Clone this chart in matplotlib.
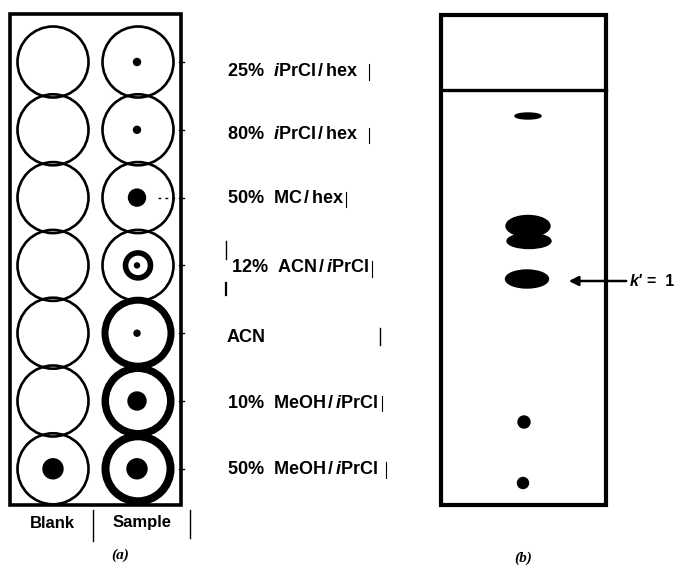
import matplotlib
matplotlib.use('Agg')
import matplotlib.pyplot as plt
from matplotlib.patches import Circle, Ellipse, Rectangle

plt.rcParams['font.family'] = ['Liberation Sans', 'DejaVu Sans']
plt.rcParams['mathtext.fontset'] = 'custom'
plt.rcParams['mathtext.rm'] = 'Liberation Sans:bold'
plt.rcParams['mathtext.it'] = 'Liberation Sans:italic:bold'

# (a) solvent screening: one row per solvent
solvents = ['25%  $\\mathit{i}$PrCl$\\,$/$\\,$hex', '80%  $\\mathit{i}$PrCl$\\,$/$\\,$hex',
            '50%  MC$\\,$/$\\,$hex', '12%  ACN$\\,$/$\\,\\mathit{i}$PrCl', 'ACN',
            '10%  MeOH$\\,$/$\\,\\mathit{i}$PrCl', '50%  MeOH$\\,$/$\\,\\mathit{i}$PrCl']
blank_spot = [0, 0, 0, 0, 0, 0, 10]           # spot radius left in the blank circle
sample_spot = [3.5, 3.5, 8.5, 2.5, 3, 9, 10]  # spot radius left in the sample circle
sample_ring = [0, 0, 0, 0, 7, 7.5, 8]         # thickness of the solvent-front ring
inner_ring = [0, 0, 0, 12.5, 0, 0, 0]         # inner ring radius (12% ACN)
columns = ['Blank', 'Sample']

# (b) developed plate: spots from the top
tlc_x = [528, 528, 529, 527, 524, 523]
tlc_y = [116, 226, 241, 279, 422, 483]
tlc_w = [26, 44, 44, 43, 12, 11]
tlc_h = [6, 21, 15, 18, 12, 11]
k_label_y = 281

fig = plt.figure(figsize=(6.85, 5.69), dpi=100)
ax = fig.add_axes([0, 0, 1, 1])
ax.set_xlim(0, 685)
ax.set_ylim(569, 0)
ax.axis('off')

# ---- panel (a)
ax.add_patch(Rectangle((10, 14), 171, 491, fill=False, lw=2.6, ec='black'))
x_blank, x_sample = 53, 138
y0, dy, r = 62, 67.8, 35.5
label_shift = [9, 5, 1, 2, 4, 2, 1]
label_x = [227, 227, 227, 231, 227, 227, 227]
for i, lab in enumerate(solvents):
    y = y0 + i * dy
    ax.add_patch(Circle((x_blank, y), r, fill=False, lw=1.9, ec='black'))
    if sample_ring[i]:
        w = sample_ring[i]
        ax.add_patch(Circle((x_sample, y), r - w / 2 + 1, fill=False,
                            lw=w * 0.72, ec='black'))
    else:
        ax.add_patch(Circle((x_sample, y), r, fill=False, lw=1.9, ec='black'))
    if inner_ring[i]:
        ax.add_patch(Circle((x_sample, y), inner_ring[i], fill=False,
                            lw=4, ec='black'))
    if blank_spot[i]:
        ax.add_patch(Circle((x_blank, y), blank_spot[i], color='black'))
    if sample_spot[i]:
        ax.add_patch(Circle((x_sample - 1, y), sample_spot[i], color='black'))
    ax.text(label_x[i], y + label_shift[i], lab, fontsize=13, weight='bold',
            va='center', ha='left')
    # little edge tick on the plate border
    ax.plot([179, 184], [y, y], color='black', lw=1)

# dashed lead from the 50% MC/hex spot
ax.plot([158, 182], [y0 + 2 * dy, y0 + 2 * dy], color='black', lw=1,
        ls=(0, (2, 3)))

# stray marks next to the labels
ax.plot([369, 369], [64, 80], color='black', lw=0.8)
ax.plot([369, 369], [128, 143], color='black', lw=0.8)
ax.plot([346, 346], [192, 207], color='black', lw=0.8)
ax.plot([226, 226], [241, 259], color='black', lw=1)
ax.plot([226, 226], [283, 295], color='black', lw=1.6)
ax.plot([372, 372], [261, 277], color='black', lw=0.8)
ax.plot([380, 380], [328, 345], color='black', lw=1)
ax.plot([382, 382], [396, 411], color='black', lw=0.8)
ax.plot([386, 386], [462, 478], color='black', lw=0.8)

ax.text(x_blank - 1, 523, columns[0], fontsize=12, weight='bold',
        ha='center', va='center')
ax.text(x_sample + 4, 523, columns[1], fontsize=12, weight='bold',
        ha='center', va='center')
ax.plot([93, 93], [510, 541], color='black', lw=1)
ax.plot([190, 190], [510, 538], color='black', lw=1)
ax.text(120, 555, '(a)', fontsize=11, style='italic', weight='bold',
        family='Liberation Serif', ha='center', va='center')

# ---- panel (b)
ax.add_patch(Rectangle((441, 15), 165, 490, fill=False, lw=3, ec='black'))
ax.plot([441, 606], [90, 90], color='black', lw=2.4)
for x, y, w, h in zip(tlc_x, tlc_y, tlc_w, tlc_h):
    ax.add_patch(Ellipse((x, y), w, h, color='black'))

ax.annotate('', xy=(566, k_label_y), xytext=(629, k_label_y),
            arrowprops=dict(arrowstyle='-|>', lw=1.8, color='black',
                            mutation_scale=14))
ax.text(630, k_label_y, "k'", fontsize=11.5, style='italic',
        weight='bold', ha='left', va='center')
ax.text(647, k_label_y, "=  1", fontsize=11.5, weight='bold',
        ha='left', va='center')
ax.text(523, 558, '(b)', fontsize=11, style='italic', weight='bold',
        family='Liberation Serif', ha='center', va='center')

fig.savefig('out.png', dpi=100)
